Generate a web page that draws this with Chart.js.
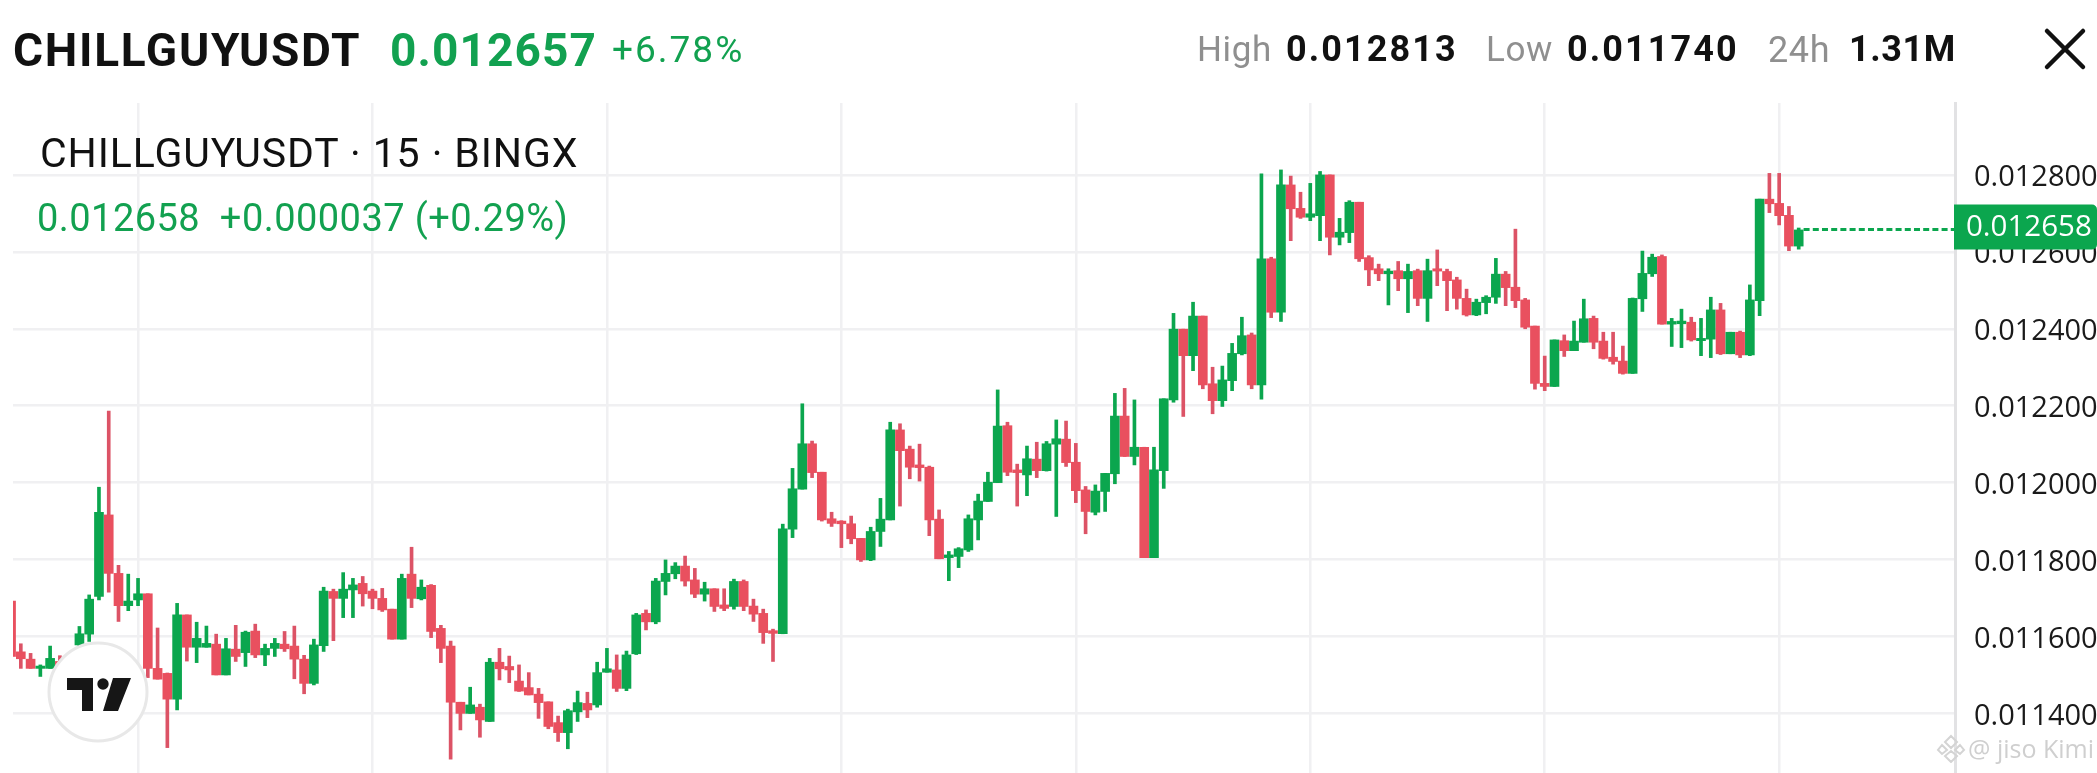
<!DOCTYPE html>
<html>
<head>
<meta charset="utf-8">
<title>CHILLGUYUSDT</title>
<script src="https://cdn.jsdelivr.net/npm/chart.js@4"></script>
<style>
html, body { margin: 0; padding: 0; background: #fff; width: 2097px; height: 773px; overflow: hidden; }
#wrap { position: absolute; left: 0; top: 0; width: 2097px; height: 773px; }
canvas { display: block; position: absolute; left: 0; top: 0; }
.t { position: absolute; white-space: pre; font-family: Roboto, sans-serif; line-height: 1; }
.b { font-weight: 700; }
.g { color: #12a150; }
.k { color: #111; }
.m { color: #8f8f8f; }
</style>
</head>
<body>
<div id="wrap">
  <canvas id="myChart" width="2097" height="773"></canvas>
  <div class="t b k" style="left:13px;top:27px;font-size:46px;letter-spacing:1.7px">CHILLGUYUSDT</div>
  <div class="t b g" style="left:390px;top:27px;font-size:46px;letter-spacing:1.1px">0.012657</div>
  <div class="t g" style="left:612px;top:31px;font-size:37px;letter-spacing:2px">+6.78%</div>
  <div class="t m" style="left:1197px;top:32px;font-size:35px;letter-spacing:.6px">High</div>
  <div class="t b k" style="left:1286px;top:31px;font-size:36px;letter-spacing:2.1px">0.012813</div>
  <div class="t m" style="left:1486px;top:32px;font-size:35px;letter-spacing:.6px">Low</div>
  <div class="t b k" style="left:1567px;top:31px;font-size:36px;letter-spacing:2.1px">0.011740</div>
  <div class="t m" style="left:1768px;top:32px;font-size:36px;letter-spacing:.6px">24h</div>
  <div class="t b k" style="left:1849px;top:31px;font-size:36px;letter-spacing:.6px">1.31M</div>
  <svg style="position:absolute;left:2040px;top:24px" width="50" height="50"><path d="M7 7 L43 43 M43 7 L7 43" stroke="#111" stroke-width="4.5" stroke-linecap="round"/></svg>
  <div class="t k" style="left:40px;top:133px;font-size:41px;letter-spacing:.9px">CHILLGUYUSDT · 15 · BINGX</div>
  <div class="t g" style="left:37px;top:199px;font-size:38px;letter-spacing:.45px">0.012658  +0.000037 (+0.29%)</div>
  <svg style="position:absolute;left:47px;top:641px" width="102" height="102" viewBox="0 0 102 102">
    <circle cx="51" cy="51" r="49" fill="#fff" stroke="#e8e8e8" stroke-width="3"/>
    <path d="M20 37 H46 V70 H35 V49 H20 Z M66 37 H84 L71 70 H56 Z" fill="#161616"/>
    <circle cx="56" cy="43" r="5.7" fill="#161616"/>
  </svg>
  <svg style="position:absolute;left:1936px;top:733px" width="30" height="30" viewBox="0 0 30 30"><path d="M15 3 L21 9 L15 15 L9 9 Z M6 12 L11 17 L6 21 L2 17 Z M24 12 L28 17 L24 21 L19 17 Z M15 18 L21 23 L15 29 L9 23 Z" fill="none" stroke="#d4d4d4" stroke-width="2"/></svg>
  <div class="t" style="left:1968px;top:736px;font-size:25px;color:#cfcfcf;font-family:'Open Sans',sans-serif">@ jiso Kimi</div>
</div>
<script>
const opens = [
  11692,11560,11541,11517,11517,11535,11520,11578,11606,11704,11916,11764,11680,11695,11711,11517,11504,11437,11656,11572,
  11572,11580,11500,11567,11558,11614,11552,11569,11580,11575,11541,11478,11576,11717,11699,11721,11738,11718,11699,11671,
  11593,11762,11698,11733,11621,11575,11429,11400,11416,11379,11533,11522,11484,11467,11450,11430,11376,11350,11404,11426,
  11422,11507,11513,11465,11555,11660,11638,11743,11763,11783,11747,11710,11724,11682,11678,11743,11679,11660,11615,11607,
  11879,11983,12101,12027,11906,11900,11893,11855,11799,11873,11903,12137,12087,12046,12040,11905,11805,11808,11825,11903,
  11951,12000,12148,12033,12020,12061,12031,12100,12113,12053,11981,11923,11977,12023,12173,12068,12092,11805,12031,12215,
  12399,12330,12433,12257,12213,12265,12335,12384,12254,12582,12443,12774,12713,12690,12694,12800,12638,12650,12729,12585,
  12556,12543,12551,12530,12551,12479,12556,12549,12527,12479,12436,12468,12482,12542,12508,12475,12407,12258,12250,12369,
  12343,12365,12427,12368,12326,12316,12284,12478,12543,12588,12412,12413,12417,12369,12373,12449,12335,12391,12332,12473,
  12737,12726,12695,12615
];
const highs = [
  11692,11581,11556,11526,11575,11550,11545,11626,11708,11988,12186,11785,11762,11751,11711,11622,11505,11686,11656,11637,
  11627,11606,11595,11629,11614,11632,11580,11595,11613,11627,11551,11593,11728,11723,11766,11751,11756,11723,11725,11671,
  11762,11832,11747,11735,11629,11588,11429,11468,11424,11543,11569,11549,11526,11506,11465,11430,11393,11411,11458,11455,
  11533,11569,11552,11562,11660,11669,11751,11799,11792,11809,11777,11741,11724,11724,11749,11747,11697,11671,11619,11892,
  12037,12205,12108,12027,11923,11901,11913,11855,11884,11959,12157,12153,12095,12100,12043,11929,11821,11831,11916,11970,
  12027,12241,12157,12048,12095,12105,12107,12163,12160,12102,11990,11994,12024,12232,12245,12215,12092,12092,12218,12440,
  12399,12469,12433,12300,12303,12362,12430,12389,12803,12586,12813,12797,12755,12778,12809,12800,12687,12733,12729,12590,
  12568,12556,12575,12568,12555,12581,12605,12555,12534,12503,12477,12486,12583,12549,12659,12479,12407,12329,12371,12384,
  12420,12477,12433,12391,12391,12355,12480,12602,12594,12592,12427,12451,12430,12427,12482,12466,12391,12394,12514,12737,
  12804,12804,12718,12662
];
const lows = [
  11548,11517,11517,11496,11517,11500,11510,11560,11587,11695,11715,11639,11667,11680,11493,11489,11311,11409,11536,11532,
  11572,11500,11500,11535,11522,11545,11524,11548,11561,11490,11451,11474,11561,11589,11649,11649,11679,11672,11665,11593,
  11593,11675,11695,11597,11532,11281,11357,11400,11338,11379,11487,11480,11457,11448,11387,11360,11327,11308,11379,11389,
  11416,11507,11457,11459,11553,11617,11633,11708,11750,11731,11701,11692,11665,11667,11671,11667,11639,11582,11535,11607,
  11857,11983,12013,11900,11886,11831,11841,11795,11797,11834,11903,11939,12010,12004,11862,11802,11745,11779,11821,11851,
  11951,12000,12018,11939,11966,12013,12030,11912,12042,11948,11867,11916,11925,11997,12068,12046,11805,11805,11985,12209,
  12172,12291,12244,12179,12198,12239,12332,12244,12217,12429,12419,12629,12687,12681,12629,12592,12618,12624,12575,12512,
  12525,12462,12499,12442,12460,12419,12512,12447,12451,12433,12434,12439,12466,12460,12455,12400,12243,12239,12250,12328,
  12343,12365,12348,12321,12308,12282,12284,12445,12536,12412,12354,12351,12368,12330,12325,12333,12335,12325,12330,12434,
  12702,12670,12603,12607
];
const closes = [
  11548,11542,11517,11523,11543,11520,11540,11607,11697,11923,11764,11680,11692,11711,11517,11489,11437,11656,11572,11595,
  11582,11500,11568,11548,11611,11552,11569,11582,11568,11541,11478,11578,11718,11699,11723,11734,11711,11699,11669,11593,
  11751,11699,11728,11613,11569,11429,11400,11422,11383,11533,11516,11513,11458,11448,11428,11366,11350,11407,11428,11409,
  11506,11516,11465,11552,11656,11638,11744,11764,11783,11744,11710,11724,11678,11673,11743,11678,11658,11610,11608,11880,
  11984,12101,12026,11903,11894,11893,11854,11799,11873,11905,12137,12083,12040,12039,11903,11802,11812,11828,11906,11952,
  12001,12147,12027,12026,12062,12031,12101,12114,12052,11979,11925,11978,12024,12173,12068,12092,11805,12033,12218,12399,
  12330,12433,12254,12213,12267,12336,12382,12254,12582,12443,12774,12712,12690,12699,12800,12638,12651,12729,12582,12553,
  12543,12550,12530,12549,12479,12551,12550,12525,12479,12436,12469,12482,12542,12507,12473,12404,12258,12250,12371,12343,
  12368,12426,12365,12323,12315,12284,12479,12544,12586,12412,12419,12420,12371,12375,12449,12335,12391,12332,12475,12737,
  12725,12694,12615,12657
];
const yTicks = [11400, 11600, 11800, 12000, 12200, 12400, 12600, 12800];
const xGridAt = [13, 37, 61, 85, 109, 133, 157, 181];
const lastPrice = 12658;

const green = '#0ba64e';
const redBody = '#e9505f';
const redWick = '#dc5366';
const candleColor = (i, up, down) => closes[i] >= opens[i] ? up : down;
const fmt = v => (v / 1000000).toFixed(6);

// price tag on the axis, drawn over the tick labels
const lastPriceTag = {
  id: 'lastPriceTag',
  afterDraw(chart) {
    const c = chart.ctx, y = chart.scales.y.getPixelForValue(lastPrice), left = chart.chartArea.right - 1;
    c.save();
    c.fillStyle = green;
    c.beginPath();
    c.roundRect(left, y - 25, chart.width - left, 45, [0, 5, 5, 0]);
    c.fill();
    c.fillStyle = '#fff';
    c.font = '29.5px "Open Sans"';
    c.textBaseline = 'middle';
    c.fillText(fmt(lastPrice), 1966, y - 2);
    c.restore();
  }
};

const ctx = document.getElementById('myChart');

new Chart(ctx, {
  data: {
    datasets: [
      {
        type: 'line',
        data: [{ x: 183.5, y: lastPrice }, { x: 199, y: lastPrice }],
        borderColor: green,
        borderWidth: 3,
        borderDash: [6, 3.2],
        pointRadius: 0,
        order: 0
      },
      {
        type: 'bar',
        data: opens.map((o, i) => ({ x: i, y: [Math.max(o, closes[i]), Math.min(o, closes[i])] })),
        backgroundColor: c => candleColor(c.dataIndex, green, redBody),
        barThickness: 9,
        grouped: false,
        order: 1
      },
      {
        type: 'bar',
        data: highs.map((h, i) => ({ x: i, y: [lows[i], h] })),
        backgroundColor: c => candleColor(c.dataIndex, green, redWick),
        barThickness: 3,
        grouped: false,
        order: 2
      }
    ]
  },
  options: {
    responsive: false,
    animation: false,
    devicePixelRatio: 1,
    layout: { autoPadding: false, padding: { left: 13, top: 103, right: 0, bottom: 0 } },
    plugins: { legend: { display: false }, tooltip: { enabled: false } },
    scales: {
      x: {
        type: 'linear',
        offset: false,
        min: 0.2,
        max: 199,
        afterBuildTicks: s => { s.ticks = xGridAt.map(v => ({ value: v })); },
        afterFit: s => { s.height = 0; },
        ticks: { display: false },
        border: { display: false },
        grid: { color: '#f0f0f2', lineWidth: 2.5, drawTicks: false, offset: false }
      },
      y: {
        position: 'right',
        min: 11245,
        max: 12987,
        afterBuildTicks: s => { s.ticks = yTicks.map(v => ({ value: v })); },
        // fixed axis width, and no room kept under the plot for the last label
        afterFit: s => { s.width = 142; s.paddingTop = 0; s.paddingBottom = 0; },
        ticks: {
          callback: v => fmt(v),
          color: '#1a1a1a',
          padding: 19,
          labelOffset: 3,
          font: { family: '"Open Sans"', size: 29 }
        },
        border: { color: '#e2e2e4', width: 3 },
        grid: { color: '#f0f0f2', lineWidth: 2.5, drawTicks: false }
      }
    }
  },
  plugins: [lastPriceTag]
});
</script>
</body>
</html>
